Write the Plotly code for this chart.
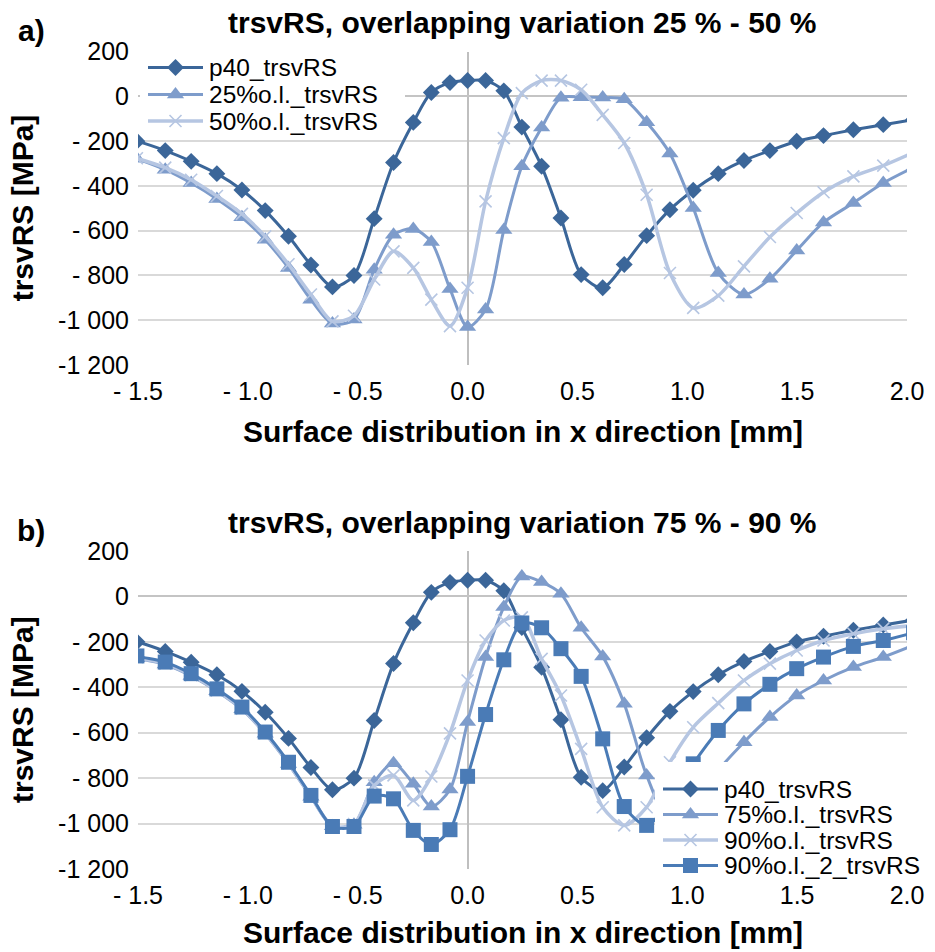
import plotly.graph_objects as go

# ---------------------------------------------------------------------------
# Data: transverse residual stress along the surface, x in mm, stress in MPa
# ---------------------------------------------------------------------------
x_nodes = [-1.892, -1.756, -1.62, -1.505, -1.376, -1.258, -1.141, -1.027, -0.921, -0.815,
           -0.713, -0.615, -0.517, -0.425, -0.337, -0.247, -0.165, -0.08, 0.0, 0.082,
           0.165, 0.247, 0.337, 0.425, 0.517, 0.615, 0.713, 0.815, 0.921, 1.027,
           1.141, 1.258, 1.376, 1.498, 1.62, 1.756, 1.892, 2.03]

p40_trsvRS = [-126, -149, -175, -200, -242, -290, -345, -418, -510, -625,
              -753, -851, -800, -546, -295, -116, 18, 62, 71, 71,
              25, -137, -312, -543, -796, -855, -751, -622, -506, -419,
              -345, -286, -242, -200, -175, -149, -126, -104]

ol25_trsvRS = [-170, -205, -240, -278, -327, -387, -458, -540, -640, -766,
               -908, -1015, -997, -774, -618, -592, -650, -860, -1030, -952,
               -597, -312, -139, -6, -3, -5, -13, -115, -255, -498,
               -789, -885, -815, -688, -563, -476, -387, -317]

ol50_trsvRS = [-165, -200, -238, -276, -318, -372, -445, -525, -625, -750,
               -885, -1005, -980, -818, -692, -766, -908, -1026, -855, -469,
               -186, 15, 71, 71, 30, -82, -208, -439, -789, -945,
               -890, -759, -628, -521, -428, -357, -309, -250]

ol75_trsvRS = [-160, -195, -235, -272, -300, -350, -417, -497, -605, -738,
               -882, -1012, -1005, -818, -734, -825, -925, -850, -553, -267,
               -47, 88, 63, 12, -138, -264, -473, -788, -990, -930,
               -766, -642, -531, -436, -370, -311, -267, -215]

ol90_trsvRS = [-155, -190, -230, -268, -296, -347, -414, -494, -602, -735,
               -880, -1010, -1002, -832, -788, -898, -793, -603, -370, -194,
               -106, -92, -275, -436, -671, -928, -1008, -928, -730, -576,
               -470, -370, -296, -238, -194, -164, -142, -128]

ol90_2_trsvRS = [-150, -185, -225, -262, -289, -340, -407, -487, -597, -730,
                 -876, -1013, -1013, -879, -891, -1030, -1092, -1027, -792, -520,
                 -279, -117, -138, -230, -352, -627, -925, -1008, -900, -737,
                 -590, -473, -387, -318, -267, -220, -194, -160]

x_tickvals = [-1.5, -1.0, -0.5, 0.0, 0.5, 1.0, 1.5, 2.0]
x_ticktext = ["- 1.5", "- 1.0", "- 0.5", "0.0", "0.5", "1.0", "1.5", "2.0"]
y_tickvals = [-1200, -1000, -800, -600, -400, -200, 0, 200]
y_ticktext = ["-1 200", "-1 000", "- 800", "- 600", "- 400", "- 200", "0", "200"]

# ---------------------------------------------------------------------------
# Styling
# ---------------------------------------------------------------------------
W, H = 935, 952
FONT = "Liberation Sans, Arial, sans-serif"
C_DARK = "#3b6699"
C_MID = "#7e9ccb"
C_LIGHT = "#b6c6e2"
C_SQ = "#4a7bb6"

styles = {
    "p40": dict(color=C_DARK, symbol="diamond", size=13, width=3),
    "tri": dict(color=C_MID, symbol="triangle-up", size=15, width=3),
    "x": dict(color=C_LIGHT, symbol="x-thin-open", size=12, width=3.5),
    "sq": dict(color=C_SQ, symbol="square", size=15, width=3),
}


def px(x):
    return x / W


def py(y):
    return 1 - y / H


def marker_for(st):
    m = dict(symbol=st["symbol"], size=st["size"], color=st["color"])
    if st["symbol"].endswith("open"):
        m["line"] = dict(width=1.6, color=st["color"])
    else:
        m["line"] = dict(width=0)
    return m


def series(y, st, xa, ya, name):
    return go.Scatter(
        x=x_nodes, y=y, name=name, mode="lines+markers",
        line=dict(color=st["color"], width=st["width"], shape="spline", smoothing=0.8),
        marker=marker_for(st), xaxis=xa, yaxis=ya, showlegend=False,
    )


fig = go.Figure()

# Panel a)
fig.add_trace(series(p40_trsvRS, styles["p40"], "x", "y", "p40_trsvRS"))
fig.add_trace(series(ol25_trsvRS, styles["tri"], "x", "y", "25%o.l._trsvRS"))
fig.add_trace(series(ol50_trsvRS, styles["x"], "x", "y", "50%o.l._trsvRS"))

# Panel b)
fig.add_trace(series(p40_trsvRS, styles["p40"], "x2", "y2", "p40_trsvRS"))
fig.add_trace(series(ol75_trsvRS, styles["tri"], "x2", "y2", "75%o.l._trsvRS"))
fig.add_trace(series(ol90_trsvRS, styles["x"], "x2", "y2", "90%o.l._trsvRS"))
fig.add_trace(series(ol90_2_trsvRS, styles["sq"], "x2", "y2", "90%o.l._2_trsvRS"))

# ---------------------------------------------------------------------------
# Hand-built legends on a pixel-space overlay axis (x3/y3)
# ---------------------------------------------------------------------------
LEGEND_FONT = dict(family=FONT, size=24.5, color="black")
legends = [
    dict(box=(140, 54, 405, 133), line=(148, 203), text_x=207,
         rows=[(67.5, "p40_trsvRS", "p40"), (94.5, "25%o.l._trsvRS", "tri"),
               (121, "50%o.l._trsvRS", "x")]),
    dict(box=(655, 762, 935, 879), line=(663, 718), text_x=722,
         rows=[(789, "p40_trsvRS", "p40"), (814.5, "75%o.l._trsvRS", "tri"),
               (840, "90%o.l._trsvRS", "x"), (865.5, "90%o.l._2_trsvRS", "sq")]),
]

annotations = []
for lg in legends:
    x0, y0, x1, y1 = lg["box"]
    fig.add_trace(go.Scatter(
        x=[x0, x1, x1, x0, x0], y=[y0, y0, y1, y1, y0], mode="lines",
        fill="toself", fillcolor="white", line=dict(width=0, color="white"),
        xaxis="x3", yaxis="y3", showlegend=False, hoverinfo="skip"))
    for ry, label, key in lg["rows"]:
        st = styles[key]
        lx0, lx1 = lg["line"]
        fig.add_trace(go.Scatter(
            x=[lx0, lx1], y=[ry, ry], mode="lines",
            line=dict(color=st["color"], width=st["width"]),
            xaxis="x3", yaxis="y3", showlegend=False, hoverinfo="skip"))
        fig.add_trace(go.Scatter(
            x=[(lx0 + lx1) / 2], y=[ry], mode="markers", marker=marker_for(st),
            xaxis="x3", yaxis="y3", showlegend=False, hoverinfo="skip", cliponaxis=False))
        annotations.append(dict(
            x=px(lg["text_x"]), y=py(ry), xref="paper", yref="paper",
            xanchor="left", yanchor="middle", text=label, showarrow=False,
            font=LEGEND_FONT))

# ---------------------------------------------------------------------------
# Titles and labels
# ---------------------------------------------------------------------------
BOLD = dict(family=FONT, size=30, color="black", weight="bold")
plot_l, plot_r = 138, 907
panels = [
    dict(top=51.7, bottom=365, tag="a)", xtitle_gap=67,
         title="trsvRS, overlapping variation 25 % - 50 %"),
    dict(top=551, bottom=869, tag="b)", xtitle_gap=63,
         title="trsvRS, overlapping variation 75 % - 90 %"),
]
for p in panels:
    annotations.append(dict(x=px((plot_l + plot_r) / 2), y=py(p["top"] - 29),
                            xref="paper", yref="paper", text=p["title"], showarrow=False,
                            xanchor="center", yanchor="middle", font=BOLD))
    annotations.append(dict(x=px(31), y=py(p["top"] - 21), xref="paper", yref="paper",
                            text=p["tag"], showarrow=False, xanchor="center",
                            yanchor="middle", font=BOLD))
    annotations.append(dict(x=px(22), y=py((p["top"] + p["bottom"]) / 2),
                            xref="paper", yref="paper", text="trsvRS [MPa]",
                            showarrow=False, textangle=-90, xanchor="center",
                            yanchor="middle", font=BOLD))
    annotations.append(dict(x=px((plot_l + plot_r) / 2), y=py(p["bottom"] + p["xtitle_gap"]),
                            xref="paper", yref="paper",
                            text="Surface distribution in x direction [mm]",
                            showarrow=False, xanchor="center", yanchor="middle", font=BOLD))

xaxis_common = dict(
    range=[-1.5, 2.0], tickvals=x_tickvals, ticktext=x_ticktext,
    showgrid=False, zeroline=True, zerolinecolor="#bfbfbf", zerolinewidth=1.5,
    showline=False, ticks="", tickfont=dict(family=FONT, size=25, color="black"),
    ticklabelstandoff=9, fixedrange=True, automargin=False,
    domain=[px(plot_l), px(plot_r)],
)
yaxis_common = dict(
    range=[-1200, 200], tickvals=y_tickvals, ticktext=y_ticktext,
    showgrid=True, gridcolor="#d9d9d9", gridwidth=1.5,
    zeroline=True, zerolinecolor="#c4c4c4", zerolinewidth=1.5,
    showline=False, ticks="", tickfont=dict(family=FONT, size=25, color="black"),
    ticklabelstandoff=8, fixedrange=True, automargin=False,
)

fig.update_layout(
    width=W, height=H,
    margin=dict(l=0, r=0, t=0, b=0, pad=0, autoexpand=False),
    paper_bgcolor="white", plot_bgcolor="rgba(0,0,0,0)",
    showlegend=False,
    xaxis=dict(xaxis_common, anchor="y"),
    yaxis=dict(yaxis_common, anchor="x", domain=[py(365), py(51.7)]),
    xaxis2=dict(xaxis_common, anchor="y2"),
    yaxis2=dict(yaxis_common, anchor="x2", domain=[py(869), py(551)]),
    xaxis3=dict(range=[0, W], domain=[0, 1], visible=False, fixedrange=True,
                anchor="y3", automargin=False),
    yaxis3=dict(range=[H, 0], domain=[0, 1], visible=False, fixedrange=True,
                anchor="x3", automargin=False),
    annotations=annotations,
)

fig.write_html("out.html")
